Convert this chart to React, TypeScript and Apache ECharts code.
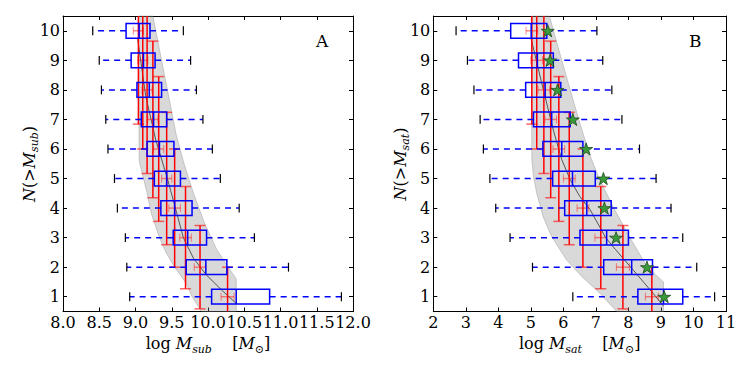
import React, { useEffect, useRef } from "react";
import * as echarts from "echarts";

// ---------- data ----------
const rankN = [1, 2, 3, 4, 5, 6, 7, 8, 9, 10];
const rankErr = [1.0, 1.41, 1.73, 2.0, 2.24, 2.45, 2.65, 2.83, 3.0, 3.16];

// Panel A (M_sub)
const meanA = [10.27, 9.89, 9.69, 9.54, 9.43, 9.32, 9.24, 9.16, 9.1, 9.04];
const meanErrA = [0.09, 0.08, 0.08, 0.08, 0.07, 0.07, 0.07, 0.07, 0.07, 0.07];
const whiskLowA = [8.92, 8.88, 8.86, 8.75, 8.71, 8.62, 8.59, 8.53, 8.5, 8.41];
const q1A = [10.05, 9.7, 9.52, 9.35, 9.26, 9.16, 9.08, 9.02, 8.94, 8.87];
const medA = [10.39, 9.97, 9.72, 9.54, 9.43, 9.33, 9.25, 9.19, 9.11, 9.05];
const q3A = [10.85, 10.26, 9.98, 9.78, 9.62, 9.53, 9.43, 9.36, 9.27, 9.2];
const whiskHighA = [11.84, 11.11, 10.64, 10.43, 10.17, 10.06, 9.93, 9.84, 9.76, 9.66];
const bandAx = [9.24, 9.32, 9.4, 9.48, 9.56, 9.67, 9.8, 9.95, 10.12, 10.28, 10.39, 10.39,
  9.91, 9.78, 9.7, 9.54, 9.42, 9.33, 9.22, 9.16, 9.1, 9.05, 9.04];
const bandAy = [10.5, 9.5, 8.5, 7.5, 6.5, 5.5, 4.5, 3.5, 2.6, 2.0, 1.6, 0.5,
  0.5, 1.0, 1.45, 2.0, 2.5, 3.0, 3.8, 4.5, 5.1, 5.6, 10.5];
const lineAx = [9.03, 9.14, 9.28, 9.44, 9.55, 9.66, 9.8, 9.98, 10.2, 10.39];
const lineAy = [9.72, 7.8, 6.3, 5.0, 4.0, 3.0, 2.3, 1.73, 1.2, 0.77];

// Panel B (M_sat)
const meanB = [8.72, 7.83, 7.15, 6.6, 6.18, 5.86, 5.61, 5.4, 5.18, 5.03];
const meanErrB = [0.2, 0.2, 0.18, 0.18, 0.18, 0.18, 0.18, 0.18, 0.18, 0.18];
const whiskLowB = [6.29, 5.05, 4.36, 3.92, 3.74, 3.54, 3.44, 3.25, 3.05, 2.7];
const q1B = [8.29, 7.24, 6.51, 6.04, 5.67, 5.37, 5.08, 4.84, 4.62, 4.38];
const medB = [9.08, 8.1, 7.33, 6.72, 6.28, 5.95, 5.64, 5.44, 5.2, 5.01];
const q3B = [9.67, 8.74, 8.0, 7.47, 6.98, 6.6, 6.21, 5.92, 5.69, 5.49];
const whiskHighB = [10.65, 10.1, 9.67, 9.31, 8.85, 8.34, 7.8, 7.49, 7.21, 7.03];
const starB = [9.1, 8.57, 7.62, 7.26, 7.23, 6.7, 6.29, 5.82, 5.59, 5.52];
const bandBx = [5.57, 5.9, 6.21, 6.5, 6.82, 7.1, 7.55, 8.05, 8.58, 9.08, 9.08,
  7.64, 7.13, 6.57, 6.1, 5.64, 5.38, 5.18, 5.08, 5.03, 5.01];
const bandBy = [10.5, 9.2, 8.0, 6.9, 5.77, 5.0, 4.0, 3.0, 2.0, 1.5, 0.5,
  0.5, 1.11, 1.68, 2.24, 3.03, 3.7, 4.5, 5.07, 5.64, 10.5];
const lineBx = [5.01, 5.38, 5.7, 5.95, 6.21, 6.5, 6.82, 7.3, 7.6, 8.15, 8.77, 9.08];
const lineBy = [9.72, 8.02, 6.6, 5.64, 4.96, 4.4, 3.95, 3.0, 2.6, 1.9, 1.1, 0.68];

const xTicksA = { min: 8, max: 12, interval: 0.5, dec: 1 };
const xTicksB = { min: 2, max: 11, interval: 1, dec: 0 };

// ---------- styling ----------
const SERIF = '"DejaVu Serif", serif';
const rich = {
  r: { fontFamily: SERIF, fontSize: 16, color: "#000", fill: "#000", lineHeight: 22 },
  i: { fontFamily: SERIF, fontSize: 16, fontStyle: "italic", color: "#000", fill: "#000", lineHeight: 22 },
  s: { fontFamily: SERIF, fontSize: 11, fontStyle: "italic", color: "#000", fill: "#000", lineHeight: 12, verticalAlign: "bottom" },
  o: { fontFamily: SERIF, fontSize: 11, color: "#000", fill: "#000", lineHeight: 12, verticalAlign: "bottom" },
};
const STAR = "path://M50,0 L61.8,35.1 L98.9,35.1 L69,56.8 L80.3,91.9 L50,70.2 L19.7,91.9 L31,56.8 L1.1,35.1 L38.2,35.1 Z";

function makeXAxes(g: number, t: any, sub: string) {
  const common: any = {
    gridIndex: g, type: "value", min: t.min, max: t.max, interval: t.interval,
    splitLine: { show: false },
    axisLine: { show: true, onZero: false, lineStyle: { color: "#000", width: 1 } },
    axisTick: { show: true, inside: true, length: 4, lineStyle: { color: "#000", width: 1 } },
  };
  return [
    {
      ...common, position: "bottom",
      axisLabel: { show: true, margin: 3, formatter: (v: number) => v.toFixed(t.dec), fontFamily: SERIF, fontSize: 16, color: "#000", hideOverlap: false },
      name: `{r|log }{i|M}{s|${sub}}{r|    [}{i|M}{o|⊙}{r|]}`,
      nameLocation: "middle", nameGap: 21, nameTextStyle: { rich },
    },
    { ...common, position: "top", axisLabel: { show: false } },
  ];
}
function makeYAxes(g: number) {
  const common: any = {
    gridIndex: g, type: "value", min: 0.5, max: 10.5,
    splitLine: { show: false },
    axisLine: { show: true, onZero: false, lineStyle: { color: "#000", width: 1 } },
    axisTick: { show: true, inside: true, length: 4, customValues: rankN, lineStyle: { color: "#000", width: 1 } },
  };
  return [
    {
      ...common, position: "left",
      axisLabel: { show: true, margin: 3, customValues: rankN, fontFamily: SERIF, fontSize: 16, color: "#000" },
    },
    { ...common, position: "right", axisLabel: { show: false } },
  ];
}

function bandSeries(g: number, xs: number[], ys: number[]) {
  return {
    type: "custom", xAxisIndex: 2 * g, yAxisIndex: 2 * g, z: 1, silent: true,
    data: [[xs[0], ys[0]]], encode: { x: 0, y: 1 },
    renderItem: (params: any, api: any) => {
      const pts = xs.map((x, i) => api.coord([x, ys[i]]));
      return { type: "polygon", shape: { points: pts }, style: { fill: "rgba(128,128,128,0.3)", stroke: "rgba(110,110,110,0.3)", lineWidth: 1 } };
    },
  };
}

function errSeries(g: number, xs: number[], xe: number[]) {
  return {
    type: "custom", xAxisIndex: 2 * g, yAxisIndex: 2 * g, z: 3, silent: true,
    data: rankN.map((n, i) => [n, xs[i], xe[i], rankErr[i]]), encode: { x: 1, y: 0 },
    renderItem: (params: any, api: any) => {
      const n = api.value(0), x = api.value(1), ex = api.value(2), ey = api.value(3);
      const cs = params.coordSys;
      const top = cs.y, bot = cs.y + cs.height;
      const pc = api.coord([x, n]);
      const pt = api.coord([x, n + ey]);
      const pb = api.coord([x, n - ey]);
      const pl = api.coord([x - ex, n]);
      const pr = api.coord([x + ex, n]);
      const red = "#ff0000";
      const capC = "rgba(255,0,0,0.6)";
      const light = "rgba(255,0,0,0.45)";
      const cw = 5.5;
      const ch: any[] = [
        { type: "line", shape: { x1: pc[0], y1: Math.max(pt[1], top), x2: pc[0], y2: Math.min(pb[1], bot) }, style: { stroke: red, lineWidth: 1.5 } },
        { type: "line", shape: { x1: pl[0], y1: pc[1], x2: pr[0], y2: pc[1] }, style: { stroke: light, lineWidth: 1.5 } },
        { type: "line", shape: { x1: pl[0], y1: pc[1] - 4, x2: pl[0], y2: pc[1] + 4 }, style: { stroke: light, lineWidth: 1 } },
        { type: "line", shape: { x1: pr[0], y1: pc[1] - 4, x2: pr[0], y2: pc[1] + 4 }, style: { stroke: light, lineWidth: 1 } },
      ];
      if (pt[1] >= top) ch.push({ type: "line", shape: { x1: pc[0] - cw, y1: pt[1], x2: pc[0] + cw, y2: pt[1] }, style: { stroke: capC, lineWidth: 1.5 } });
      if (pb[1] <= bot) ch.push({ type: "line", shape: { x1: pc[0] - cw, y1: pb[1], x2: pc[0] + cw, y2: pb[1] }, style: { stroke: capC, lineWidth: 1.5 } });
      return { type: "group", children: ch };
    },
  };
}

function boxSeries(g: number, lo: number[], q1: number[], md: number[], q3: number[], hi: number[]) {
  return {
    type: "custom", xAxisIndex: 2 * g, yAxisIndex: 2 * g, z: 4, silent: true,
    data: rankN.map((n, i) => [n, lo[i], q1[i], md[i], q3[i], hi[i]]), encode: { x: 3, y: 0 },
    renderItem: (params: any, api: any) => {
      const n = api.value(0);
      const pLo = api.coord([api.value(1), n]);
      const pQ1 = api.coord([api.value(2), n]);
      const pMd = api.coord([api.value(3), n]);
      const pQ3 = api.coord([api.value(4), n]);
      const pHi = api.coord([api.value(5), n]);
      const hh = Math.abs(api.coord([api.value(3), n - 0.25])[1] - pMd[1]);
      const capH = Math.abs(api.coord([api.value(3), n - 0.15])[1] - pMd[1]);
      const y = pMd[1];
      const blue = "#0000ff";
      const dash = { stroke: blue, lineWidth: 1.5, lineDash: [6, 5] };
      return {
        type: "group",
        children: [
          { type: "line", shape: { x1: pQ1[0], y1: y, x2: pLo[0], y2: y }, style: dash },
          { type: "line", shape: { x1: pQ3[0], y1: y, x2: pHi[0], y2: y }, style: dash },
          { type: "line", shape: { x1: pLo[0], y1: y - capH, x2: pLo[0], y2: y + capH }, style: { stroke: "#000", lineWidth: 1.2 } },
          { type: "line", shape: { x1: pHi[0], y1: y - capH, x2: pHi[0], y2: y + capH }, style: { stroke: "#000", lineWidth: 1.2 } },
          { type: "rect", shape: { x: pQ1[0], y: y - hh, width: pQ3[0] - pQ1[0], height: 2 * hh }, style: { fill: "none", stroke: blue, lineWidth: 1.5 } },
          { type: "line", shape: { x1: pMd[0], y1: y - hh, x2: pMd[0], y2: y + hh }, style: { stroke: blue, lineWidth: 1.5 } },
        ],
      };
    },
  };
}

function lineSeries(g: number, xs: number[], ys: number[]) {
  return {
    type: "line", xAxisIndex: 2 * g, yAxisIndex: 2 * g, z: 2, silent: true,
    data: xs.map((x, i) => [x, ys[i]]), showSymbol: false, symbol: "none",
    lineStyle: { color: "#555", width: 1 },
  };
}

function yTitle(x: number, sub: string) {
  return {
    type: "text", x, y: 164, rotation: Math.PI / 2,
    style: { text: `{i|N}{r|(>}{i|M}{s|${sub}}{r|)}`, rich, align: "center", verticalAlign: "middle" },
  };
}

export default function App() {
  const ref = useRef<HTMLDivElement>(null);
  useEffect(() => {
    if (!ref.current) return;
    const chart = echarts.init(ref.current, undefined, { renderer: "svg" });
    const option: any = {
      animation: false,
      backgroundColor: "#fff",
      grid: [
        { left: 63, top: 16, width: 290, height: 295.5, outerBoundsMode: "none" },
        { left: 433.3, top: 16, width: 292.7, height: 295.5, outerBoundsMode: "none" },
      ],
      xAxis: [...makeXAxes(0, xTicksA, "sub"), ...makeXAxes(1, xTicksB, "sat")],
      yAxis: [...makeYAxes(0), ...makeYAxes(1)],
      series: [
        bandSeries(0, bandAx, bandAy),
        lineSeries(0, lineAx, lineAy),
        errSeries(0, meanA, meanErrA),
        boxSeries(0, whiskLowA, q1A, medA, q3A, whiskHighA),
        bandSeries(1, bandBx, bandBy),
        lineSeries(1, lineBx, lineBy),
        errSeries(1, meanB, meanErrB),
        boxSeries(1, whiskLowB, q1B, medB, q3B, whiskHighB),
        {
          type: "scatter", xAxisIndex: 2, yAxisIndex: 2, z: 5, silent: true,
          data: starB.map((x, i) => [x, rankN[i]]),
          symbol: STAR, symbolSize: 13, symbolKeepAspect: true,
          itemStyle: { color: "#3a9a3a", borderColor: "#1f4a1f", borderWidth: 0.8, opacity: 1 },
        },
      ],
      graphic: [
        { type: "text", left: 316, top: 32, style: { text: "A", fontFamily: SERIF, fontSize: 17, fill: "#000" } },
        { type: "text", left: 689, top: 32, style: { text: "B", fontFamily: SERIF, fontSize: 17, fill: "#000" } },
        yTitle(29, "sub"),
        yTitle(400, "sat"),
      ],
    };
    chart.setOption(option);
    return () => chart.dispose();
  }, []);
  return (
    <div
      ref={ref}
      style={{ position: "fixed", left: 0, top: 0, width: 747, height: 374, background: "#fff" }}
    />
  );
}
